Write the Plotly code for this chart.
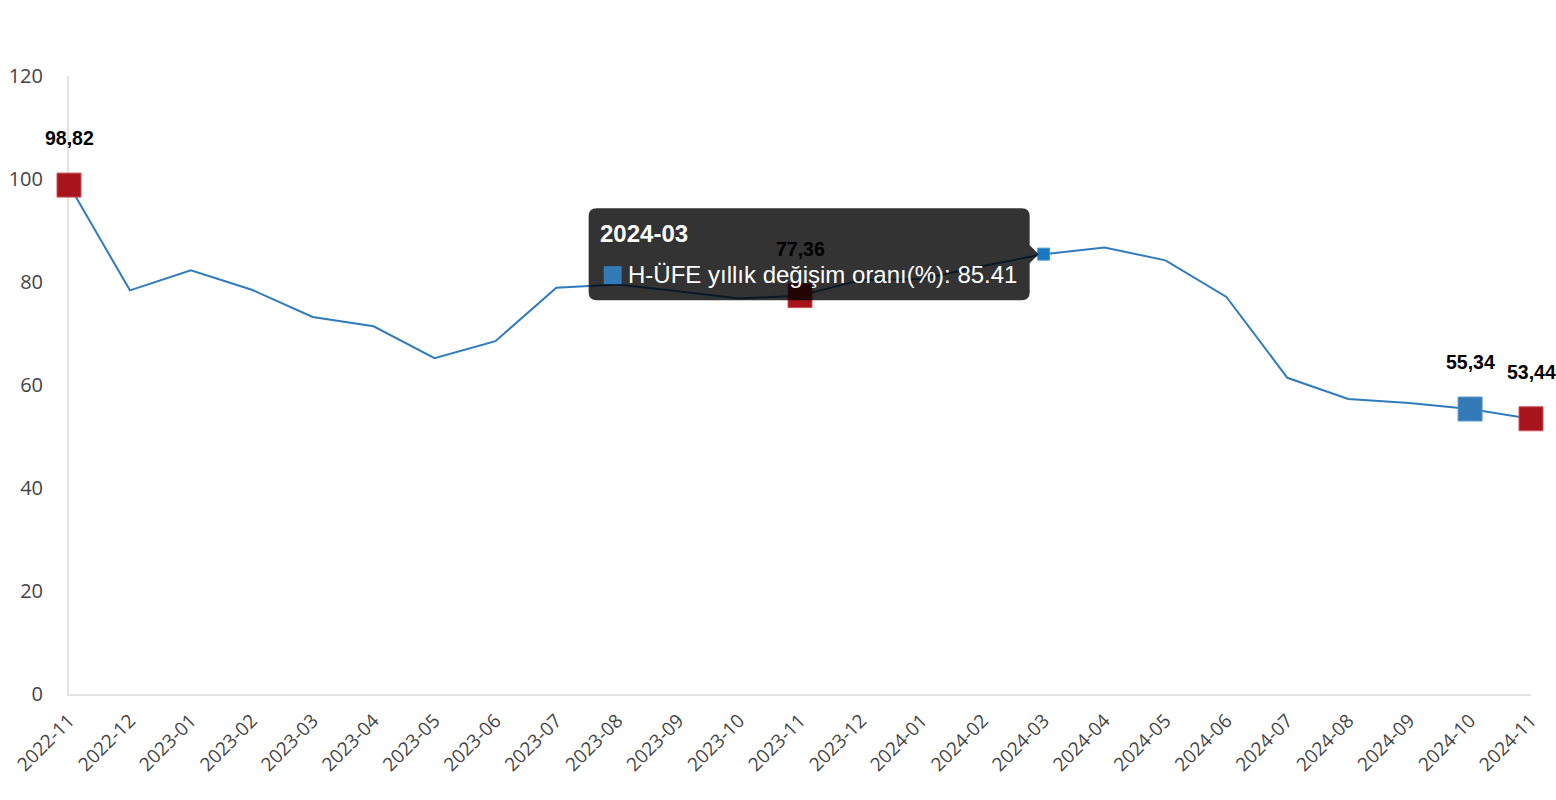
import plotly.graph_objects as go

months = ["2022-11", "2022-12", "2023-01", "2023-02", "2023-03", "2023-04", "2023-05",
          "2023-06", "2023-07", "2023-08", "2023-09", "2023-10", "2023-11", "2023-12",
          "2024-01", "2024-02", "2024-03", "2024-04", "2024-05", "2024-06", "2024-07",
          "2024-08", "2024-09", "2024-10", "2024-11"]
hufe = [98.82, 78.38, 82.27, 78.5, 73.2, 71.4, 65.2,
        68.5, 78.9, 79.5, 78.2, 76.8, 77.36, 80.4,
        80.6, 83.1, 85.41, 86.7, 84.2, 77.1, 61.4,
        57.3, 56.5, 55.34, 53.44]
series_name = "H-ÜFE yıllık değişim oranı(%)"
labelled = ["2022-11", "2023-11", "2024-10", "2024-11"]
red_points = ["2022-11", "2023-11", "2024-11"]
blue_points = ["2024-10"]
hover_month = "2024-03"

LINE = "#2f7bbd"
RED = "#a8141c"
BLUE = "#337ab7"

idx = {m: i for i, m in enumerate(months)}

fig = go.Figure()
fig.add_trace(go.Scatter(
    x=list(range(len(months))), y=hufe, mode="lines",
    line=dict(color=LINE, width=2), name=series_name, showlegend=False,
    hoverinfo="skip", cliponaxis=False))

def marker_trace(ms, color, size, lc):
    return go.Scatter(
        x=[idx[m] for m in ms], y=[hufe[idx[m]] for m in ms], mode="markers",
        marker=dict(symbol="square", size=size, color=color, line=dict(color=lc, width=1)),
        showlegend=False, hoverinfo="skip", cliponaxis=False)

fig.add_trace(marker_trace(red_points, RED, 24, "#d0505a"))
fig.add_trace(marker_trace(blue_points, BLUE, 24, "#5a97cc"))
fig.add_trace(marker_trace([hover_month], "#1a78c2", 12, "#4a98d8"))

annotations = []
for m in labelled:
    v = hufe[idx[m]]
    annotations.append(dict(
        x=idx[m], y=v, xref="x", yref="y", text="<b>" + f"{v:.2f}".replace(".", ",") + "</b>",
        showarrow=False, yshift=47, xanchor="center", yanchor="middle",
        font=dict(family="Arial, Liberation Sans", size=19.5, color="#000000")))

# tooltip
hx = idx[hover_month]
hv = hufe[hx]
tip_path = ("M -447,46 L -22,46 Q -14,46 -14,38 L -14,9 L -5,0 L -14,-9 L -14,-38 "
            "Q -14,-46 -22,-46 L -447,-46 Q -455,-46 -455,-38 L -455,38 Q -455,46 -447,46 Z")
shapes = [
    dict(type="path", xref="x", yref="y", xsizemode="pixel", ysizemode="pixel",
         xanchor=hx, yanchor=hv, path=tip_path, fillcolor="rgba(0,0,0,0.8)",
         line=dict(width=0), layer="above"),
    dict(type="rect", xref="x", yref="y", xsizemode="pixel", ysizemode="pixel",
         xanchor=hx, yanchor=hv, x0=-440, x1=-422, y0=-12, y1=-30,
         fillcolor=BLUE, line=dict(width=0), layer="above"),
]
annotations.append(dict(
    x=hx, y=hv, xref="x", yref="y", text="<b>" + hover_month + "</b>", showarrow=False,
    xanchor="left", yanchor="middle", xshift=-446, yshift=21,
    font=dict(family="Arial, Liberation Sans", size=24, color="#ffffff")))
annotations.append(dict(
    x=hx, y=hv, xref="x", yref="y", text=f"{series_name}: {hv}", showarrow=False,
    xanchor="left", yanchor="middle", xshift=-418, yshift=-20,
    font=dict(family="Arial, Liberation Sans", size=24, color="#ffffff")))

fig.update_layout(
    width=1556, height=800,
    margin=dict(l=69, r=25, t=76, b=106, autoexpand=False),
    plot_bgcolor="#ffffff", paper_bgcolor="#ffffff",
    shapes=shapes, annotations=annotations,
    xaxis=dict(
        range=[0, len(months) - 1], tickmode="array",
        tickvals=list(range(len(months))), ticktext=months,
        tickangle=-45, showgrid=False, zeroline=False, automargin=False,
        showline=True, linecolor="#e3e3e3", linewidth=2, layer="below traces",
        ticks="", ticklabelstandoff=6,
        tickfont=dict(family="Open Sans, Noto Sans", size=19, color="#444444")),
    yaxis=dict(
        range=[0, 120], tickvals=[0, 20, 40, 60, 80, 100, 120],
        showgrid=False, zeroline=False, automargin=False,
        showline=True, linecolor="#e3e3e3", linewidth=2, layer="below traces",
        ticks="", ticklabelstandoff=20,
        tickfont=dict(family="Open Sans, Noto Sans", size=20, color="#444444")),
)

fig.write_html("out.html", config={"displayModeBar": False},
               post_script="document.body.style.margin='0';document.body.style.overflow='hidden';")
